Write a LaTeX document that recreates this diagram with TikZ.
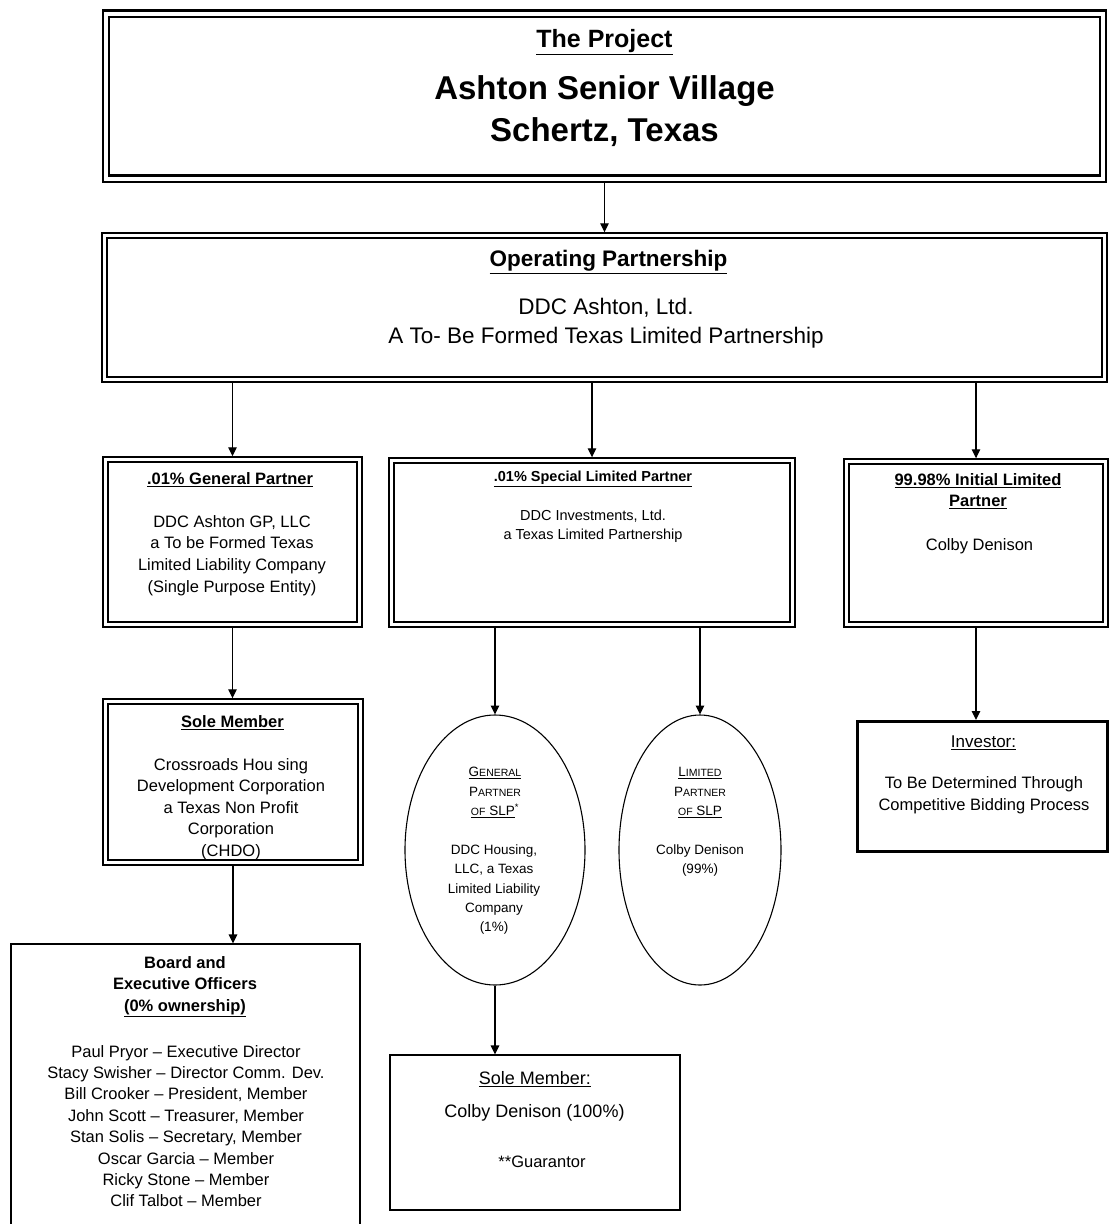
\documentclass[tikz,border=0pt]{standalone}
\usepackage{fontspec}
\setmainfont{Liberation Sans}
\usetikzlibrary{arrows.meta,shapes.geometric}
\newcommand{\fsz}[2]{\fontsize{#1}{#2}\selectfont}
\newcommand{\fsc}[2]{{\fsz{13.5}{19.5}#1}{\fsz{10.5}{19.5}#2}}
\begin{document}
\begin{tikzpicture}[x=1pt,y=-1pt,
  dblbox/.style={draw, double, double distance=3pt, line width=1.6pt, inner sep=0pt, outer sep=3.2pt},
  thinbox/.style={draw, line width=1.3pt, inner sep=0pt, outer sep=0.6pt},
  oval/.style={draw, ellipse, line width=1.1pt, inner sep=0pt, outer sep=0.5pt},
  txt/.style={inner sep=0pt, align=center},
  conn/.style={line width=1.3pt, -{Triangle[length=9pt,width=8.5pt]}}]
\useasboundingbox[fill=white] (0,0) rectangle (1109,1224);

% boxes
\node[dblbox, line width=2.4pt, double distance=4pt, outer sep=4.4pt, minimum width=997pt, minimum height=165pt] (proj) at (604.5,96) {};
\node[dblbox, minimum width=1000pt, minimum height=144pt] (op) at (604.5,307.5) {};
\node[dblbox, minimum width=254pt, minimum height=165pt] (gp) at (232.5,542) {};
\node[dblbox, minimum width=401pt, minimum height=164pt] (slp) at (592,542.5) {};
\node[dblbox, minimum width=259pt, minimum height=163pt] (ilp) at (976,543) {};
\node[dblbox, minimum width=255pt, minimum height=161pt] (sm) at (233,782) {};
\node[thinbox, line width=3pt, outer sep=1.5pt, minimum width=250pt, minimum height=130pt] (inv) at (982,786.5) {};
\node[thinbox, minimum width=349pt, minimum height=286pt] (board) at (185.5,1087) {};
\node[thinbox, minimum width=290pt, minimum height=155pt] (smtwo) at (535,1132.5) {};
\node[oval, minimum width=180pt, minimum height=270pt] (eone) at (495,850) {};
\node[oval, minimum width=162pt, minimum height=270pt] (etwo) at (700,850) {};

% texts
\node[txt, font=\bfseries\fsz{25}{30}] (projT) at (604.5,42) {\underline{The Project}};
\node[txt, font=\bfseries\fsz{33}{42}] (projN) at (604.5,111) {Ashton Senior Village\\Schertz, Texas};

\node[txt, font=\bfseries\fsz{22.5}{28}] (opT) at (608.5,262) {\underline{Operating Partnership}};
\node[txt, font=\fsz{22.5}{29}] (opB) at (606,323.5) {DDC Ashton, Ltd.\\A To- Be Formed Texas Limited Partnership};

\node[txt, font=\bfseries\fsz{16.5}{21}] (gpT) at (230,480) {\underline{.01\% General Partner}};
\node[txt, font=\fsz{16.5}{21.7}] (gpB) at (232,555.5) {DDC Ashton GP, LLC\\a To be Formed Texas\\Limited Liability Company\\(Single Purpose Entity)};

\node[txt, font=\bfseries\fsz{14.5}{19}] (slpT) at (593,479) {\underline{.01\% Special Limited Partner}};
\node[txt, font=\fsz{14.5}{19}] (slpB) at (593,526.5) {DDC Investments, Ltd.\\a Texas Limited Partnership};

\node[txt, font=\bfseries\fsz{16.5}{21}] (ilpT) at (978,491.5) {\underline{99.98\% Initial Limited}\\\underline{Partner}};
\node[txt, font=\fsz{16.5}{21}] (ilpB) at (979.5,546) {Colby Denison};

\node[txt, font=\bfseries\fsz{16.5}{21}] (smT) at (232.5,723) {\underline{Sole Member}};
\node[txt, font=\fsz{16.5}{21.5}] (smB) at (231,809) {Crossroads Hou sing\\Development Corporation\\a Texas Non Profit\\Corporation\\(CHDO)};

\node[txt, font=\fsz{13.5}{19.5}] (eoneT) at (495,792.5) {\underline{\fsc{G}{ENERAL}}\\\fsc{P}{ARTNER}\\\underline{{\fsz{10.5}{19.5}OF} SLP}\textsuperscript{*}};
\node[txt, font=\fsz{13.5}{19.2}] (eoneB) at (494,889.5) {DDC Housing,\\LLC, a Texas\\Limited Liability\\Company\\(1\%)};

\node[txt, font=\fsz{13.5}{19.5}] (etwoT) at (700,792.5) {\underline{\fsc{L}{IMITED}}\\\fsc{P}{ARTNER}\\\underline{{\fsz{10.5}{19.5}OF} SLP}};
\node[txt, font=\fsz{13.5}{19.2}] (etwoB) at (700,860.5) {Colby Denison\\(99\%)};

\node[txt, font=\fsz{17}{21}] (invT) at (983.5,743) {\underline{Investor:}};
\node[txt, font=\fsz{16.5}{22}] (invB) at (984,795) {To Be Determined Through\\Competitive Bidding Process};

\node[txt, font=\bfseries\fsz{16.5}{21.5}] (boardT) at (185,986.5) {Board and\\Executive Officers\\\underline{(0\% ownership)}};
\node[txt, font=\fsz{16.5}{21.4}] (boardB) at (186,1126) {Paul Pryor -- Executive Director\\Stacy Swisher -- Director Comm. Dev.\\Bill Crooker -- President, Member\\John Scott -- Treasurer, Member\\Stan Solis -- Secretary, Member\\Oscar Garcia -- Member\\Ricky Stone -- Member\\Clif Talbot -- Member};

\node[txt, font=\fsz{18}{22}] (smtwoT) at (535,1079) {\underline{Sole Member:}};
\node[txt, font=\fsz{18}{22}] (smtwoB) at (534.5,1113) {Colby Denison (100\%)};
\node[txt, font=\fsz{16.5}{22}] (smtwoG) at (542,1162) {**Guarantor};

% connectors
\draw[conn] (proj.south) -- (op.north);
\draw[conn] (op.south -| gp.north) -- (gp.north);
\draw[conn] (op.south -| slp.north) -- (slp.north);
\draw[conn] (op.south -| ilp.north) -- (ilp.north);
\draw[conn] (gp.south) -- (gp.south |- sm.north);
\draw[conn] (slp.south -| eone.north) -- (eone.north);
\draw[conn] (slp.south -| etwo.north) -- (etwo.north);
\draw[conn] (ilp.south) -- (ilp.south |- inv.north);
\draw[conn] (sm.south) -- (sm.south |- board.north);
\draw[conn] (eone.south) -- (eone.south |- smtwo.north);
\end{tikzpicture}
\end{document}
